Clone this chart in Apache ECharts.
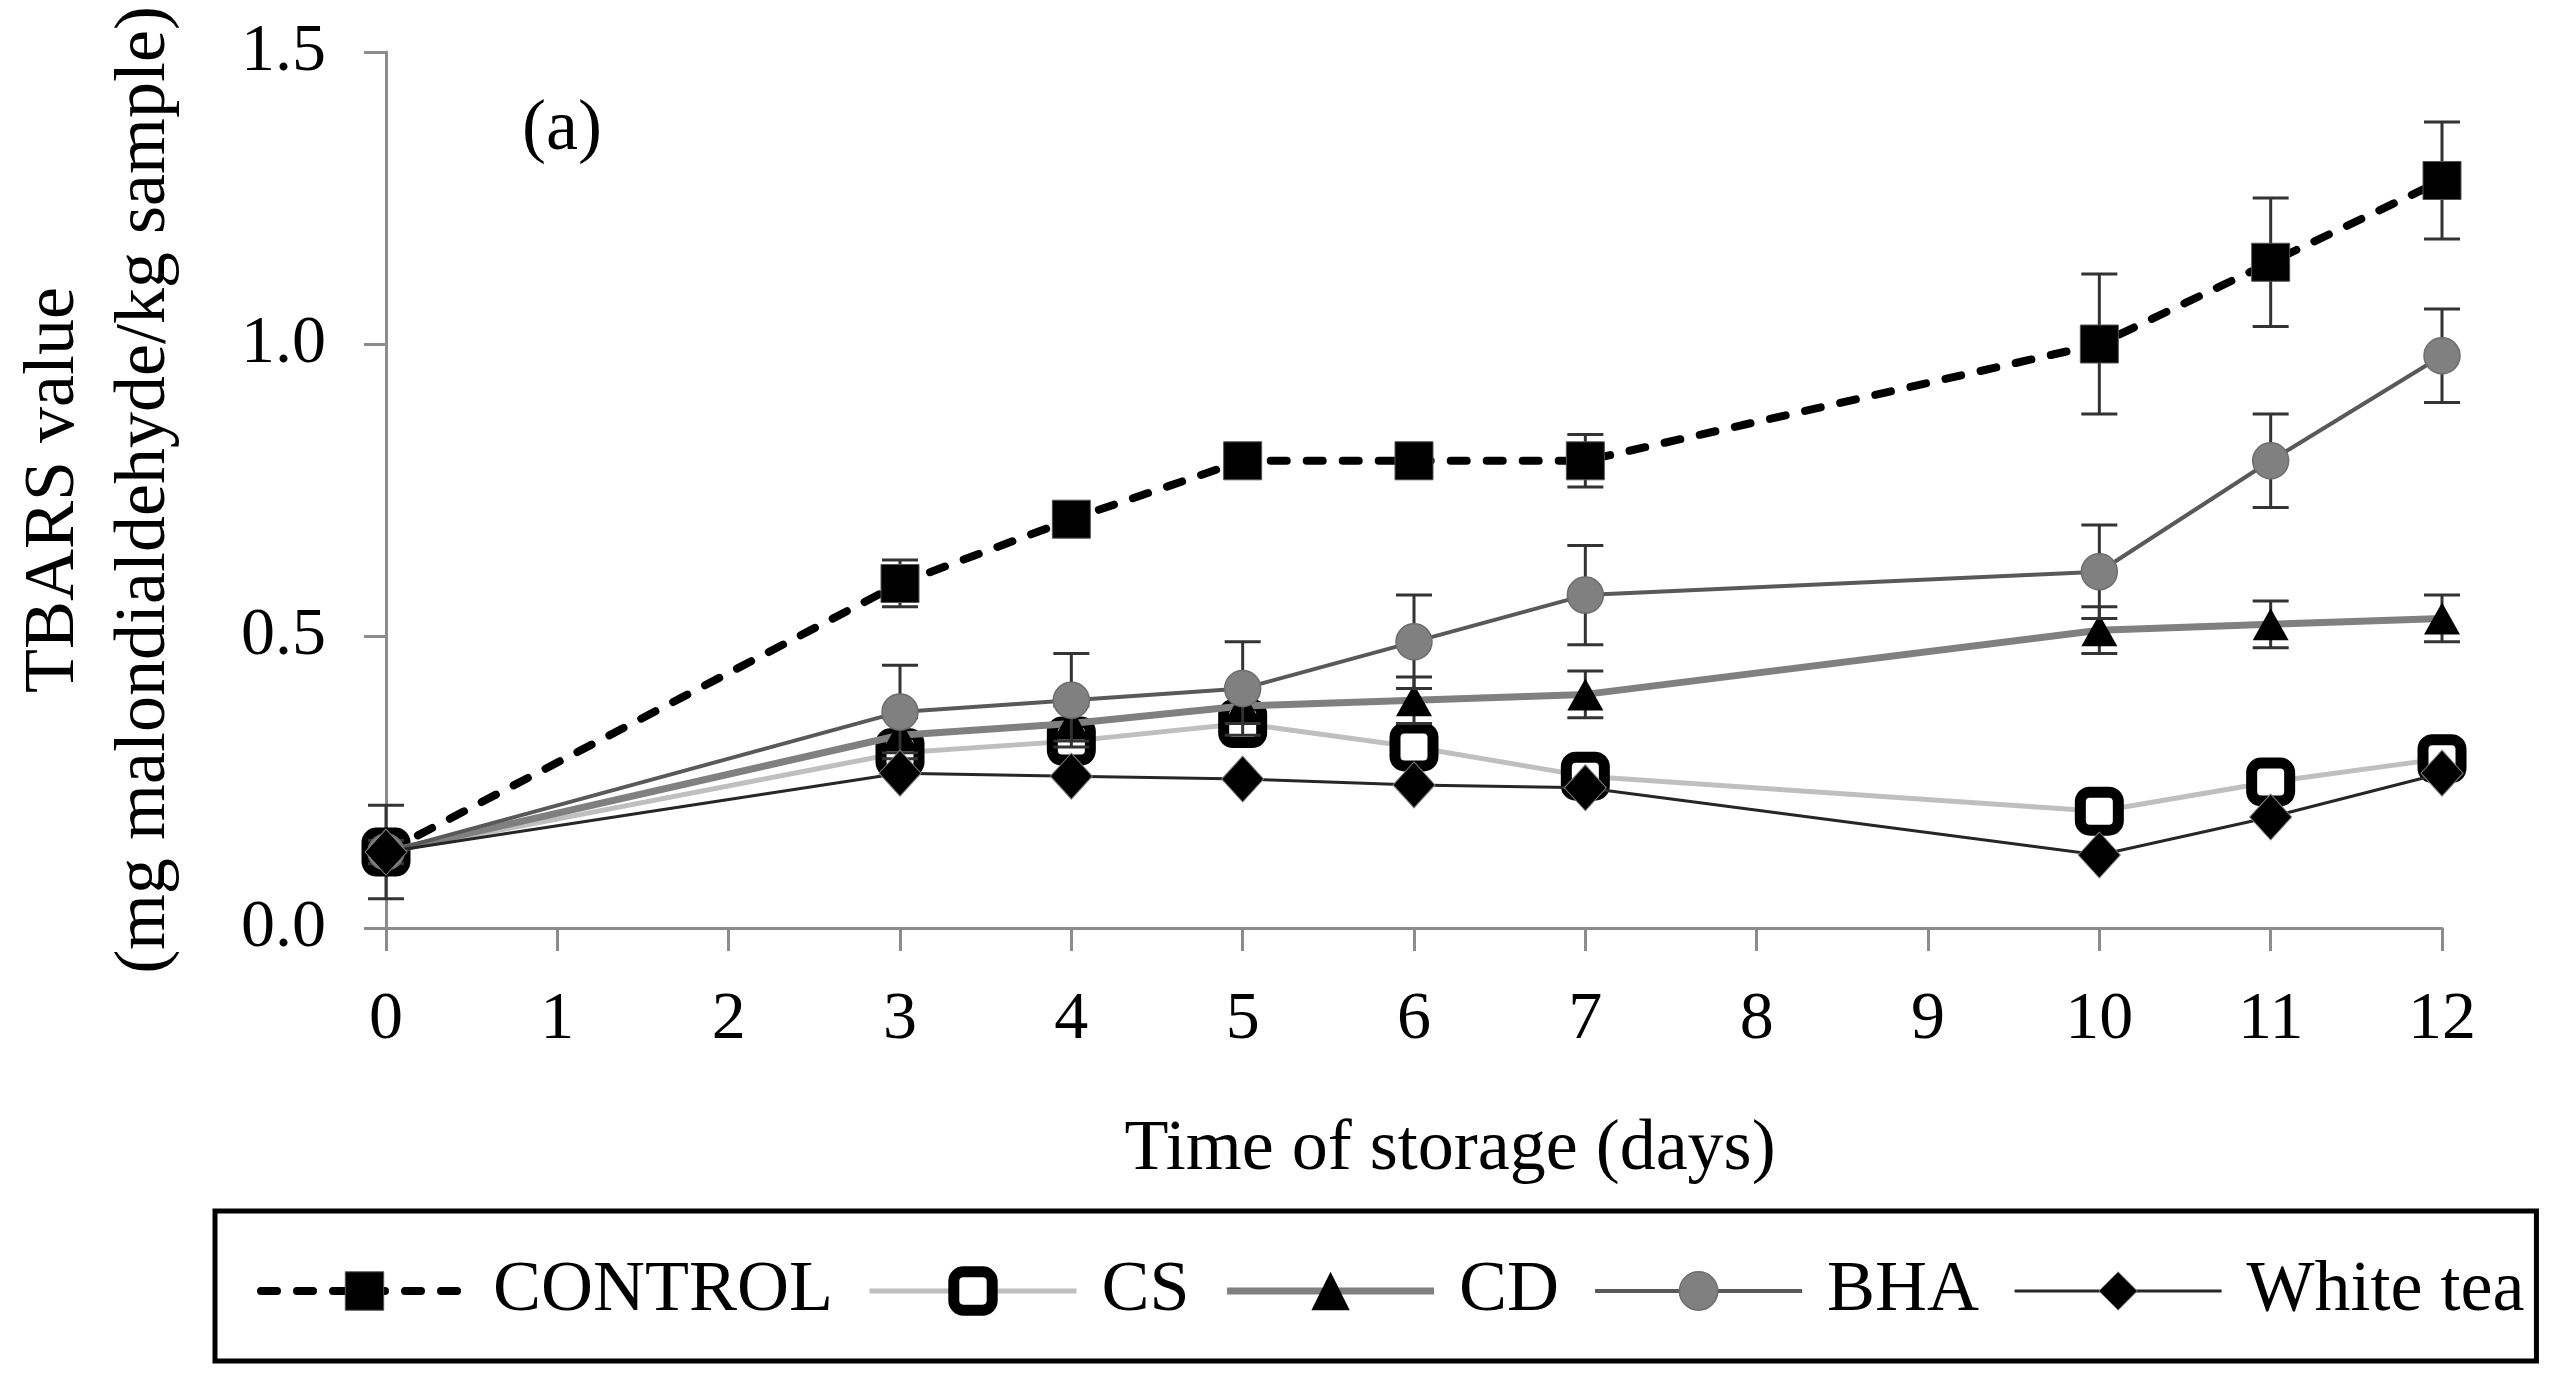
<!DOCTYPE html>
<html>
<head>
<meta charset="utf-8">
<script src="https://cdn.jsdelivr.net/npm/echarts@6/dist/echarts.min.js"></script>
<style>
html,body{margin:0;padding:0;background:#fff;}
#chart{width:2566px;height:1384px;}
</style>
</head>
<body>
<div id="chart"></div>
<script>
const days = [0, 3, 4, 5, 6, 7, 10, 11, 12];
const control = [0.13, 0.59, 0.70, 0.80, 0.80, 0.80, 1.00, 1.14, 1.28];
const controlErr = [0.08, 0.04, 0.02, 0.01, 0.03, 0.045, 0.12, 0.11, 0.10];
const cs = [0.13, 0.30, 0.32, 0.35, 0.31, 0.26, 0.20, 0.25, 0.29];
const cd = [0.13, 0.33, 0.35, 0.38, 0.39, 0.40, 0.51, 0.52, 0.53];
const cdErr = [0.02, 0.03, 0.03, 0.03, 0.04, 0.04, 0.04, 0.04, 0.04];
const bha = [0.13, 0.37, 0.39, 0.41, 0.49, 0.57, 0.61, 0.80, 0.98];
const bhaErr = [0.02, 0.08, 0.08, 0.08, 0.08, 0.085, 0.08, 0.08, 0.08];
const whiteTea = [0.13, 0.265, 0.26, 0.255, 0.245, 0.24, 0.125, 0.19, 0.265];
const seriesNames = ['CONTROL', 'CS', 'CD', 'BHA', 'White tea'];
const xTitle = 'Time of storage (days)';
const yTitle = 'TBARS value\n(mg malondialdehyde/kg sample)';
const panelLabel = '(a)';

const FONT = 'Liberation Serif';

function pairs(vals) { return days.map((d, i) => [d, vals[i]]); }
function errData(vals, errs) { return days.map((d, i) => [d, vals[i] - errs[i], vals[i] + errs[i]]); }

function errSeries(vals, errs, z) {
  return {
    type: 'custom',
    data: errData(vals, errs),
    z: z,
    silent: true,
    legendHoverLink: false,
    renderItem: function (params, api) {
      const lo = api.coord([api.value(0), api.value(1)]);
      const hi = api.coord([api.value(0), api.value(2)]);
      const x = lo[0];
      const cap = 18;
      const st = { stroke: '#333333', lineWidth: 3 };
      return {
        type: 'group',
        children: [
          { type: 'line', shape: { x1: x, y1: lo[1], x2: x, y2: hi[1] }, style: st },
          { type: 'line', shape: { x1: x - cap, y1: lo[1], x2: x + cap, y2: lo[1] }, style: st },
          { type: 'line', shape: { x1: x - cap, y1: hi[1], x2: x + cap, y2: hi[1] }, style: st }
        ]
      };
    },
    encode: { x: 0, y: [1, 2] },
    clip: false
  };
}

const chart = echarts.init(document.getElementById('chart'), null, { renderer: 'canvas' });

const option = {
  backgroundColor: '#ffffff',
  animation: false,
  textStyle: { fontFamily: FONT, color: '#000' },
  grid: { left: 386, right: 124, top: 52, bottom: 456, containLabel: false },
  xAxis: {
    type: 'value',
    min: 0, max: 12, interval: 1,
    name: xTitle,
    nameLocation: 'middle',
    nameGap: 186,
    nameTextStyle: { fontFamily: FONT, fontSize: 72, color: '#000', padding: [0, 0, 0, 72] },
    axisLine: { show: true, onZero: false, lineStyle: { color: '#8c8c8c', width: 3 } },
    axisTick: { show: true, inside: false, length: 23, lineStyle: { color: '#8c8c8c', width: 3 } },
    axisLabel: { fontFamily: FONT, fontSize: 68, color: '#000', margin: 58 },
    splitLine: { show: false }
  },
  yAxis: {
    type: 'value',
    min: 0, max: 1.5, interval: 0.5,
    name: yTitle,
    nameLocation: 'middle',
    nameRotate: 90,
    nameGap: 195,
    nameTextStyle: { fontFamily: FONT, fontSize: 72, color: '#000', lineHeight: 91 },
    axisLine: { show: true, lineStyle: { color: '#8c8c8c', width: 3 } },
    axisTick: { show: true, inside: false, length: 22, lineStyle: { color: '#8c8c8c', width: 3 } },
    axisLabel: { fontFamily: FONT, fontSize: 68, color: '#000', margin: 60,
      formatter: v => v.toFixed(1) },
    splitLine: { show: false }
  },
  legend: {
    left: 215, top: 1211,
    padding: [44, 12, 34, 42],
    itemGap: 34,
    itemWidth: 207,
    itemHeight: 48,
    borderColor: '#000',
    borderWidth: 5,
    data: seriesNames,
    itemStyle: { borderWidth: 'inherit' },
    lineStyle: { width: 'inherit' },
    textStyle: { fontFamily: FONT, fontSize: 72, color: '#000', padding: [0, 0, 0, 20] }
  },
  graphic: [
    { type: 'text', left: 522, top: 94,
      style: { text: panelLabel, font: '72px ' + FONT, fill: '#000' } }
  ],
  series: [
    errSeries(control, controlErr, 2),
    {
      name: seriesNames[0], type: 'line', data: pairs(control), z: 3,
      symbol: 'rect', symbolSize: 38,
      lineStyle: { color: '#000', width: 8, type: [16, 20], cap: 'round' },
      itemStyle: { color: '#000', borderColor: '#555', borderWidth: 1 }
    },
    {
      name: seriesNames[1], type: 'line', data: pairs(cs), z: 4,
      symbol: 'roundRect', symbolSize: 38,
      lineStyle: { color: '#bfbfbf', width: 5 },
      itemStyle: { color: '#ffffff', borderColor: '#000', borderWidth: 11 }
    },
    errSeries(cd, cdErr, 5),
    {
      name: seriesNames[2], type: 'line', data: pairs(cd), z: 6,
      symbol: 'triangle', symbolSize: [36, 32],
      lineStyle: { color: '#808080', width: 7 },
      itemStyle: { color: '#000' }
    },
    errSeries(bha, bhaErr, 7),
    {
      name: seriesNames[3], type: 'line', data: pairs(bha), z: 8,
      symbol: 'circle', symbolSize: 36,
      lineStyle: { color: '#595959', width: 4 },
      itemStyle: { color: '#808080', borderColor: '#6e6e6e', borderWidth: 1.5 }
    },
    {
      name: seriesNames[4], type: 'line', data: pairs(whiteTea), z: 9,
      symbol: 'diamond', symbolSize: [42, 46],
      lineStyle: { color: '#262626', width: 3 },
      itemStyle: { color: '#000', borderColor: '#808080', borderWidth: 1 }
    }
  ]
};

chart.setOption(option);
</script>
</body>
</html>
